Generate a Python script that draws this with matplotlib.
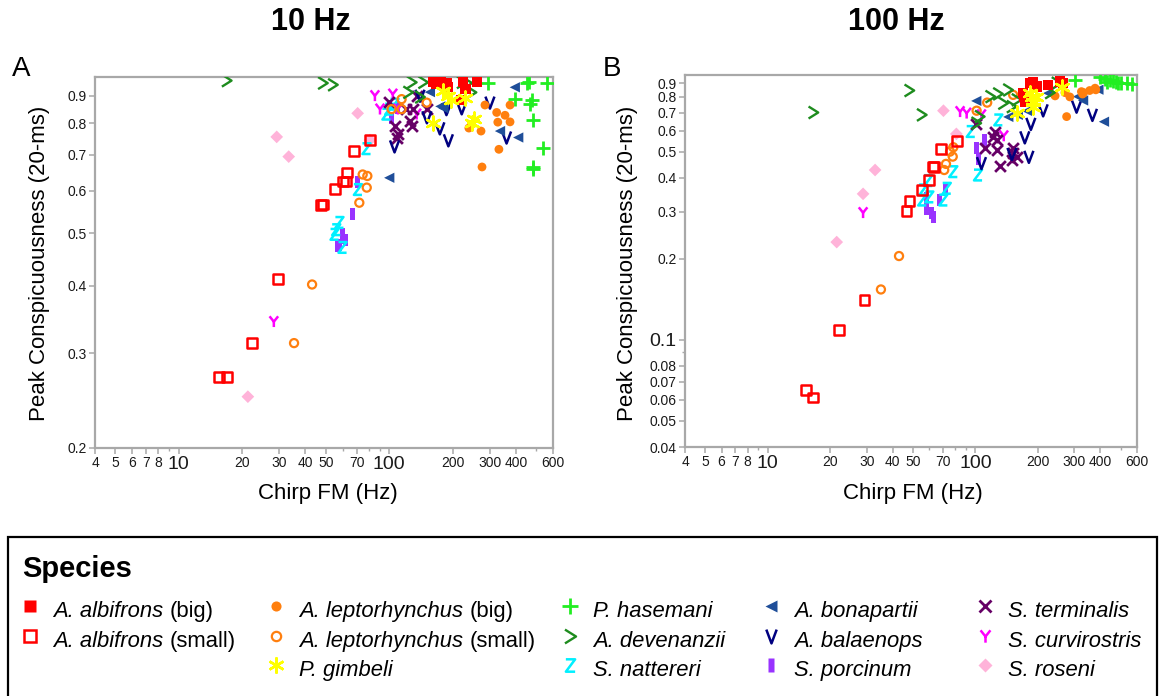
import matplotlib
matplotlib.use("Agg")
import matplotlib.pyplot as plt
from matplotlib.path import Path
from matplotlib.lines import Line2D
from matplotlib.patches import Rectangle
from matplotlib.ticker import FixedLocator, FixedFormatter, NullFormatter

plt.rcParams['font.family'] = ['Liberation Sans', 'DejaVu Sans']

# ---- panel A: 10 Hz beat (chirp FM in Hz, peak conspicuousness) ----
alb_big_fm_a = [161, 168, 176, 188, 224, 230, 262, 220, 190]
alb_big_pc_a = [0.955, 0.945, 0.955, 0.95, 0.955, 0.925, 0.955, 0.885, 0.935]
alb_small_fm_a = [15.5, 16.9, 22.3, 29.6, 47.4, 48.6, 55.2, 60.2, 62.3, 62.9, 67.9, 80.9]
alb_small_pc_a = [0.271, 0.271, 0.313, 0.412, 0.564, 0.566, 0.604, 0.624, 0.624, 0.648, 0.71, 0.745]
lep_big_fm_a = [285, 324, 355, 375, 328, 375, 239, 273, 332, 276]
lep_big_pc_a = [0.865, 0.838, 0.828, 0.865, 0.804, 0.805, 0.784, 0.774, 0.716, 0.664]
lep_small_fm_a = [35.3, 43, 72.1, 74.8, 78.7, 78.2, 102.6, 114.5, 114.5, 150.6]
lep_small_pc_a = [0.313, 0.402, 0.57, 0.643, 0.639, 0.608, 0.85, 0.887, 0.85, 0.874]
gim_fm_a = [180, 190, 196, 228, 161, 246, 254]
gim_pc_a = [0.92, 0.90, 0.885, 0.89, 0.80, 0.80, 0.815]
has_fm_a = [294, 450, 460, 560, 395, 475, 466, 484, 535, 484, 480]
has_pc_a = [0.95, 0.95, 0.955, 0.95, 0.889, 0.884, 0.868, 0.811, 0.72, 0.665, 0.658]
dev_fm_a = [16.9, 48.4, 54, 128, 145, 123, 140, 221, 246, 235]
dev_pc_a = [0.96, 0.95, 0.943, 0.953, 0.953, 0.913, 0.895, 0.953, 0.913, 0.95]
nat_fm_a = [78, 71, 58, 56, 55, 60, 97, 106, 100]
nat_pc_a = [0.718, 0.603, 0.524, 0.508, 0.498, 0.471, 0.832, 0.868, 0.85]
bon_fm_a = [100, 156, 181, 175, 336, 410, 395]
bon_pc_a = [0.634, 0.914, 0.853, 0.86, 0.774, 0.753, 0.933]
bal_fm_a = [106, 174, 191, 151, 187, 221, 301, 361, 140]
bal_pc_a = [0.725, 0.783, 0.744, 0.821, 0.85, 0.853, 0.874, 0.753, 0.9]
por_fm_a = [71, 67, 60, 62, 58, 57, 60, 103, 110]
por_pc_a = [0.623, 0.544, 0.498, 0.487, 0.476, 0.473, 0.49, 0.82, 0.855]
ter_fm_a = [100, 106, 110, 109, 126, 128, 130, 151, 135, 120]
ter_pc_a = [0.875, 0.79, 0.763, 0.75, 0.809, 0.79, 0.85, 0.85, 0.90, 0.85]
cur_fm_a = [28.3, 85.5, 104, 90.4, 135, 110]
cur_pc_a = [0.343, 0.90, 0.906, 0.85, 0.832, 0.85]
ros_fm_a = [29.2, 33.3, 21.3, 70.8, 81]
ros_pc_a = [0.755, 0.694, 0.249, 0.835, 0.745]

# ---- panel B: 100 Hz beat ----
alb_big_fm_b = [183, 197, 224, 170, 173, 255, 264, 190, 172]
alb_big_pc_b = [0.90, 0.875, 0.887, 0.826, 0.77, 0.912, 0.90, 0.91, 0.80]
alb_small_fm_b = [15.3, 16.5, 22.1, 29.2, 46.7, 48.1, 55.2, 60, 62.5, 63, 68.1, 81.3]
alb_small_pc_b = [0.065, 0.061, 0.109, 0.141, 0.301, 0.328, 0.361, 0.393, 0.441, 0.44, 0.511, 0.549]
lep_big_fm_b = [285, 324, 355, 377, 328, 380, 242, 270, 332, 275]
lep_big_pc_b = [0.80, 0.837, 0.845, 0.862, 0.82, 0.85, 0.807, 0.83, 0.83, 0.676]
lep_small_fm_b = [35.1, 42.9, 70.8, 75.5, 78.3, 77.8, 101.4, 114, 72.2, 152]
lep_small_pc_b = [0.154, 0.205, 0.428, 0.501, 0.52, 0.48, 0.711, 0.762, 0.451, 0.814]
gim_fm_b = [183, 187, 190, 190, 158, 260, 196]
gim_pc_b = [0.826, 0.802, 0.769, 0.736, 0.696, 0.874, 0.80]
has_fm_b = [302, 398, 461, 487, 566, 428, 445, 420, 540, 475, 500]
has_pc_b = [0.925, 0.952, 0.92, 0.904, 0.894, 0.912, 0.925, 0.93, 0.90, 0.91, 0.905]
dev_fm_b = [16.6, 48.1, 55.2, 118, 128.5, 143.6, 158, 136, 149.5, 228.6, 246, 105, 101]
dev_pc_b = [0.70, 0.845, 0.686, 0.802, 0.821, 0.849, 0.78, 0.758, 0.736, 0.83, 0.90, 0.676, 0.639]
nat_fm_b = [129, 95, 78.3, 103, 59.3, 56.1, 72.8, 70.1, 55.5, 60]
nat_pc_b = [0.657, 0.595, 0.422, 0.41, 0.391, 0.361, 0.366, 0.331, 0.331, 0.34]
bon_fm_b = [101, 144, 160, 177, 312, 330, 391, 416, 224]
bon_pc_b = [0.773, 0.674, 0.686, 0.71, 0.802, 0.776, 0.851, 0.647, 0.826]
bal_fm_b = [107, 212, 185, 173, 181, 150, 307, 366]
bal_pc_b = [0.454, 0.713, 0.635, 0.566, 0.479, 0.491, 0.736, 0.686]
por_fm_b = [71.5, 67, 58.3, 58.3, 61.7, 62.8, 101, 103, 111]
por_pc_b = [0.361, 0.331, 0.336, 0.306, 0.296, 0.287, 0.515, 0.471, 0.553]
ter_fm_b = [101, 124, 122, 127, 111, 127, 152, 152, 158, 150, 131]
ter_pc_b = [0.635, 0.595, 0.57, 0.553, 0.515, 0.508, 0.515, 0.494, 0.479, 0.467, 0.443]
cur_fm_b = [28.8, 84.4, 90.8, 107, 137]
cur_pc_b = [0.297, 0.705, 0.696, 0.686, 0.573]
ros_fm_b = [28.8, 32.9, 21.5, 70.2, 81]
ros_pc_b = [0.349, 0.428, 0.231, 0.711, 0.583]

x_ticks = [4, 5, 6, 7, 8, 10, 20, 30, 40, 50, 70, 100, 200, 300, 400, 600]
x_minor = [9, 60, 80, 90, 500]
y_ticks_a = [0.2, 0.3, 0.4, 0.5, 0.6, 0.7, 0.8, 0.9]
y_ticks_b = [0.04, 0.05, 0.06, 0.07, 0.08, 0.1, 0.2, 0.3, 0.4, 0.5, 0.6, 0.7, 0.8, 0.9]
y_minor_b = [0.09]

# letter-like markers
M, L = Path.MOVETO, Path.LINETO
CHEVRON = Path([(-0.8, 1), (0.8, 0), (-0.8, -1)], [M, L, L])
VEE = Path([(-0.75, 1), (0, -1), (0.75, 1)], [M, L, L])
ZED = Path([(-0.75, 1), (0.75, 1), (-0.75, -1), (0.75, -1)], [M, L, L, L])
WYE = Path([(-0.8, 1), (0, 0), (0.8, 1), (0, 0), (0, -1)], [M, L, L, M, L])
BAR = Path([(-0.42, -1), (0.42, -1), (0.42, 1), (-0.42, 1), (-0.42, -1)],
           [M, L, L, L, Path.CLOSEPOLY])

# (key, italic name, plain suffix, marker, colour, kind, size, linewidth, data A, data B)
species = [
    ('alb_big', 'A. albifrons', '(big)', 's', '#FF0000', 'fill', 55, 0,
     (alb_big_fm_a, alb_big_pc_a), (alb_big_fm_b, alb_big_pc_b)),
    ('alb_small', 'A. albifrons', '(small)', 's', '#FF0000', 'open', 48, 1.8,
     (alb_small_fm_a, alb_small_pc_a), (alb_small_fm_b, alb_small_pc_b)),
    ('lep_big', 'A. leptorhynchus', '(big)', 'o', '#FF7F0E', 'fill', 40, 0,
     (lep_big_fm_a, lep_big_pc_a), (lep_big_fm_b, lep_big_pc_b)),
    ('lep_small', 'A. leptorhynchus', '(small)', 'o', '#FF7F0E', 'open', 34, 1.6,
     (lep_small_fm_a, lep_small_pc_a), (lep_small_fm_b, lep_small_pc_b)),
    ('gim', 'P. gimbeli', '', (6, 2, 0), '#FFFF00', 'line', 100, 1.8,
     (gim_fm_a, gim_pc_a), (gim_fm_b, gim_pc_b)),
    ('has', 'P. hasemani', '', '+', '#22EE22', 'line', 90, 2.0,
     (has_fm_a, has_pc_a), (has_fm_b, has_pc_b)),
    ('dev', 'A. devenanzii', '', CHEVRON, '#1E8C1E', 'open', 75, 1.7,
     (dev_fm_a, dev_pc_a), (dev_fm_b, dev_pc_b)),
    ('nat', 'S. nattereri', '', ZED, '#00F0FF', 'open', 60, 1.8,
     (nat_fm_a, nat_pc_a), (nat_fm_b, nat_pc_b)),
    ('bon', 'A. bonapartii', '', '<', '#1F4E99', 'fill', 55, 0,
     (bon_fm_a, bon_pc_a), (bon_fm_b, bon_pc_b)),
    ('bal', 'A. balaenops', '', VEE, '#000080', 'open', 75, 1.8,
     (bal_fm_a, bal_pc_a), (bal_fm_b, bal_pc_b)),
    ('por', 'S. porcinum', '', BAR, '#9933FF', 'fill', 75, 0,
     (por_fm_a, por_pc_a), (por_fm_b, por_pc_b)),
    ('ter', 'S. terminalis', '', 'x', '#660066', 'line', 60, 2.0,
     (ter_fm_a, ter_pc_a), (ter_fm_b, ter_pc_b)),
    ('cur', 'S. curvirostris', '', WYE, '#FF00FF', 'open', 60, 1.8,
     (cur_fm_a, cur_pc_a), (cur_fm_b, cur_pc_b)),
    ('ros', 'S. roseni', '', 'D', '#FFB3D9', 'fill', 42, 0,
     (ros_fm_a, ros_pc_a), (ros_fm_b, ros_pc_b)),
]
draw_order = ['ros', 'por', 'nat', 'cur', 'ter', 'bal', 'bon', 'lep_small', 'lep_big',
              'alb_small', 'has', 'dev', 'alb_big', 'gim']

W, H = 1163, 696
fig = plt.figure(figsize=(W / 100, H / 100), dpi=100)
ax_a = fig.add_axes([95 / W, 1 - 448 / H, 458 / W, 371 / H])
ax_b = fig.add_axes([685 / W, 1 - 447 / H, 452 / W, 372 / H])

spec = {s[0]: s for s in species}


def scatter_species(ax, key, which):
    _, _, _, marker, color, kind, size, lw, data_a, data_b = spec[key]
    fm, pc = data_a if which == 'a' else data_b
    if kind == 'fill':
        ax.scatter(fm, pc, marker=marker, s=size, color=color, edgecolors='none', zorder=3)
    elif kind == 'open':
        ax.scatter(fm, pc, marker=marker, s=size, facecolors='none', edgecolors=color,
                   linewidths=lw, zorder=3)
    else:
        ax.scatter(fm, pc, marker=marker, s=size, color=color, linewidths=lw, zorder=3)


def style_axis(ax, yticks, ylim, yminor, big_y):
    ax.set_xscale('log')
    ax.set_yscale('log')
    ax.set_xlim(4, 600)
    ax.set_ylim(*ylim)
    ax.xaxis.set_major_locator(FixedLocator(x_ticks))
    ax.xaxis.set_major_formatter(FixedFormatter([str(v) for v in x_ticks]))
    ax.xaxis.set_minor_locator(FixedLocator(x_minor))
    ax.xaxis.set_minor_formatter(NullFormatter())
    ax.yaxis.set_major_locator(FixedLocator(yticks))
    ax.yaxis.set_major_formatter(FixedFormatter([f'{v:g}' for v in yticks]))
    ax.yaxis.set_minor_locator(FixedLocator(yminor))
    ax.yaxis.set_minor_formatter(NullFormatter())
    for sp in ax.spines.values():
        sp.set_color('#A8A8A8')
        sp.set_linewidth(1.6)
    ax.tick_params(which='major', direction='out', length=4, width=1.1, color='#A8A8A8',
                   labelsize=10, labelcolor='#1a1a1a', pad=2)
    ax.tick_params(which='minor', direction='out', length=2.5, width=1.0, color='#A8A8A8')
    for t, v in zip(ax.xaxis.get_major_ticks(), x_ticks):
        if v in (10, 100):
            t.label1.set_fontsize(14)
    for t, v in zip(ax.yaxis.get_major_ticks(), yticks):
        if v in big_y:
            t.label1.set_fontsize(14)


for key in draw_order:
    scatter_species(ax_a, key, 'a')
    scatter_species(ax_b, key, 'b')

style_axis(ax_a, y_ticks_a, (0.2, 0.975), [], [])
style_axis(ax_b, y_ticks_b, (0.04, 0.965), y_minor_b, [0.1])

# titles, panel letters, axis labels
fig.text(311 / W, 1 - 22 / H, '10 Hz', fontsize=22, fontweight='bold', ha='center', va='center')
fig.text(896 / W, 1 - 22 / H, '100 Hz', fontsize=22, fontweight='bold', ha='center', va='center')
fig.text(12 / W, 1 - 69 / H, 'A', fontsize=20, ha='left', va='center')
fig.text(603 / W, 1 - 69 / H, 'B', fontsize=20, ha='left', va='center')
for cx, ylc in ((328, 40), (913, 628)):
    fig.text(cx / W, 1 - 493 / H, 'Chirp FM (Hz)', fontsize=16, ha='center', va='center')
    fig.text(ylc / W, 1 - 263 / H, 'Peak Conspicuousness (20-ms)', fontsize=16,
             rotation=90, ha='center', va='center')

# legend box
fig.add_artist(Rectangle((8 / W, -0.01), 1149 / W, 0.01 + 1 - 537 / H,
                         transform=fig.transFigure, fill=False, edgecolor='black', lw=1.6))
fig.text(22 / W, 1 - 569 / H, 'Species', fontsize=21, fontweight='bold', ha='left', va='center')

columns = [['alb_big', 'alb_small'], ['lep_big', 'lep_small', 'gim'],
           ['has', 'dev', 'nat'], ['bon', 'bal', 'por'], ['ter', 'cur', 'ros']]
col_x = [30, 276, 570, 771, 985]
fs = 15.8
fs_px = fs * 100 / 72
legends = []
for keys, mx in zip(columns, col_x):
    handles, labels, suffixes = [], [], []
    for key in keys:
        _, name, suffix, marker, color, kind, size, lw, _, _ = spec[key]
        ms = size ** 0.5 * 1.15
        if kind == 'fill':
            h = Line2D([], [], ls='none', marker=marker, ms=ms, color=color, mec='none')
        elif kind == 'open':
            h = Line2D([], [], ls='none', marker=marker, ms=ms, mfc='none', mec=color, mew=lw)
        else:
            h = Line2D([], [], ls='none', marker=marker, ms=ms, color=color, mew=lw)
        handles.append(h)
        labels.append(name)
        suffixes.append(suffix)
    leg = fig.legend(handles, labels, loc='upper left',
                     bbox_to_anchor=((mx - 0.6 * fs_px) / W, 1 - 595 / H),
                     frameon=False, prop={'size': fs, 'style': 'italic'},
                     handlelength=1.2, handleheight=1.7,
                     handletextpad=0.45, labelspacing=0.0, borderpad=0, borderaxespad=0)
    legends.append((leg, suffixes))

# upright "(big)" / "(small)" after the italic names
fig.canvas.draw()
renderer = fig.canvas.get_renderer()
space_px = 0.28 * fs_px
for leg, suffixes in legends:
    for txt, suffix in zip(leg.get_texts(), suffixes):
        if suffix:
            bb = txt.get_window_extent(renderer)
            fig.text((bb.x1 + space_px) / W, bb.y0 / H, suffix, fontsize=fs,
                     ha='left', va='bottom')

fig.savefig('out.png', dpi=100)
